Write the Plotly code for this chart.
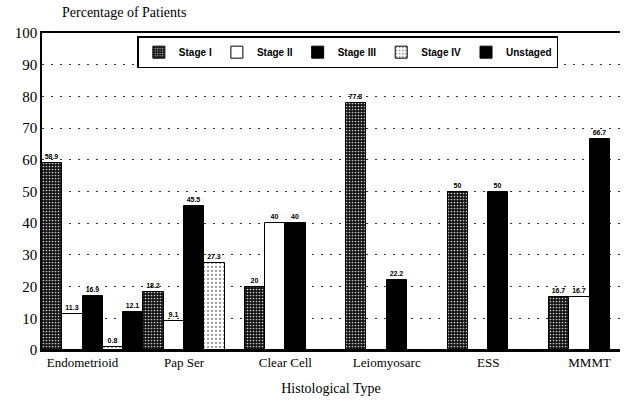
import plotly.graph_objects as go

categories = ["Endometrioid", "Pap Ser", "Clear Cell", "Leiomyosarc", "ESS", "MMMT"]
stage_i = [58.9, 18.2, 20, 77.8, 50, 16.7]
stage_ii = [11.3, 9.1, 40, 0, 0, 16.7]
stage_iii = [16.9, 45.5, 40, 22.2, 50, 66.7]
stage_iv = [0.8, 27.3, 0, 0, 0, 0]
unstaged = [12.1, 0, 0, 0, 0, 0]
y_ticks = [0, 10, 20, 30, 40, 50, 60, 70, 80, 90, 100]

series = [
    ("Stage I", stage_i, dict(color="#222", pattern=dict(shape=".", fgcolor="#cccccc", bgcolor="#111111", size=3, solidity=0.25, fillmode="replace"))),
    ("Stage II", stage_ii, dict(color="white")),
    ("Stage III", stage_iii, dict(color="black")),
    ("Stage IV", stage_iv, dict(color="white", pattern=dict(shape=".", fgcolor="#999999", bgcolor="white", size=4, solidity=0.25, fillmode="replace"))),
    ("Unstaged", unstaged, dict(color="black")),
]

x = list(range(len(categories)))
fig = go.Figure()
for name, vals, mk in series:
    mk = dict(mk)
    mk["line"] = dict(color="black", width=1)
    fig.add_trace(go.Bar(
        name=name, x=x, y=vals, marker=mk,
        text=[(f"{v:g}" if v else "") for v in vals],
        textposition="outside", cliponaxis=False,
        textfont=dict(family="Liberation Sans", size=7, color="black", weight="bold"),
    ))

fig.update_layout(
    width=629, height=401,
    margin=dict(l=42, r=9, t=33, b=51),
    paper_bgcolor="white", plot_bgcolor="white",
    barmode="group", bargap=0, bargroupgap=0,
    showlegend=True,
    legend=dict(orientation="h", x=0.165, y=0.99, xanchor="left", yanchor="top",
                bgcolor="white", bordercolor="black", borderwidth=1.5,
                font=dict(family="Liberation Sans", size=10, color="black", weight="bold"),
                itemwidth=30, traceorder="normal"),
    font=dict(family="Liberation Serif", color="black"),
)
fig.update_xaxes(
    range=[-0.5, 5.2], automargin=False,
    tickmode="array", tickvals=[i - 0.1 for i in x], ticktext=categories,
    tickfont=dict(family="Liberation Serif", size=13),
    showline=True, linecolor="black", linewidth=1.5, mirror=True,
    ticks="", showgrid=False,
    title=dict(text="Histological Type", font=dict(family="Liberation Serif", size=14), standoff=14),
)
fig.update_yaxes(
    range=[0, 100], tickmode="array", tickvals=y_ticks, automargin=False,
    tickfont=dict(family="Liberation Serif", size=15),
    showline=True, linecolor="black", linewidth=1.5,
    showgrid=True, gridcolor="#333", gridwidth=1, griddash="2px,7px",
    ticks="", zeroline=False,
)
fig.add_annotation(text="Percentage of Patients", xref="paper", yref="paper",
                   x=0.032, y=1.0, yshift=21, xanchor="left", yanchor="middle", showarrow=False,
                   font=dict(family="Liberation Serif", size=14, color="black"))
fig.write_html("out.html", post_script="document.body.style.margin='0';",
               config={"displayModeBar": False})
